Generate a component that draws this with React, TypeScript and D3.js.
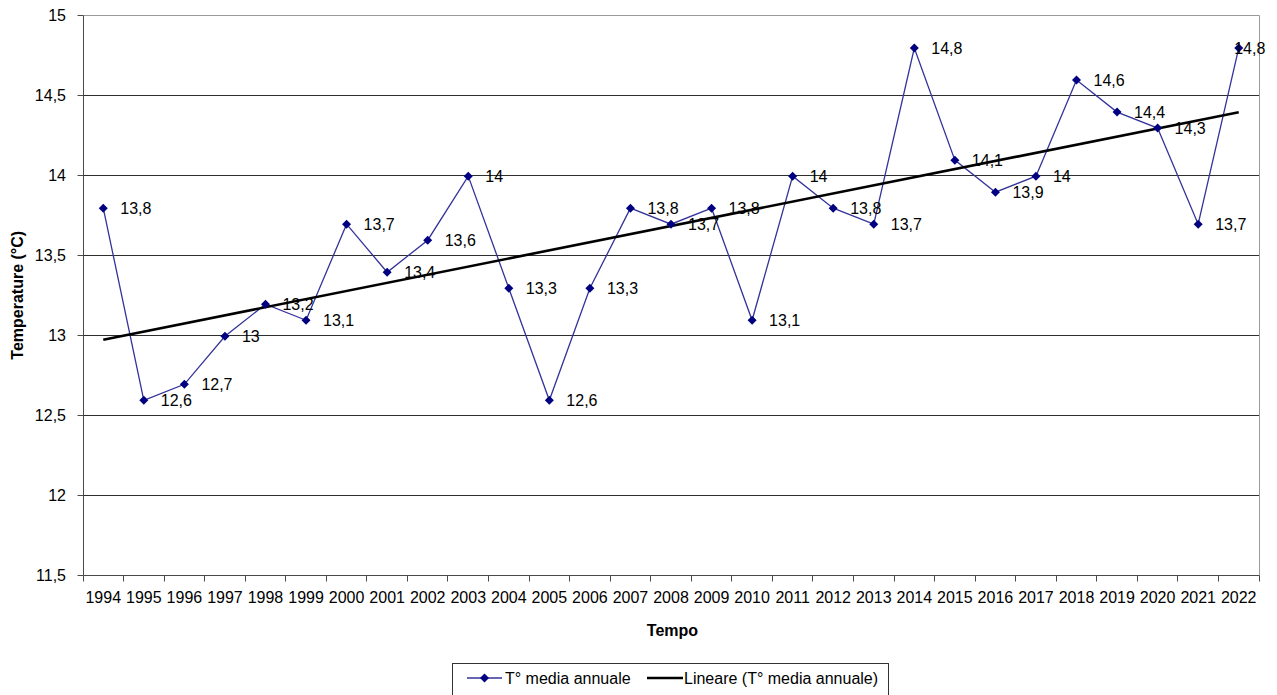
import React from "react";
import * as d3 from "d3";

// Annual mean temperature per year (°C)
const years: string[] = [
  "1994", "1995", "1996", "1997", "1998", "1999", "2000", "2001", "2002", "2003",
  "2004", "2005", "2006", "2007", "2008", "2009", "2010", "2011", "2012", "2013",
  "2014", "2015", "2016", "2017", "2018", "2019", "2020", "2021", "2022",
];
const temps: number[] = [
  13.8, 12.6, 12.7, 13.0, 13.2, 13.1, 13.7, 13.4, 13.6, 14.0,
  13.3, 12.6, 13.3, 13.8, 13.7, 13.8, 13.1, 14.0, 13.8, 13.7,
  14.8, 14.1, 13.9, 14.0, 14.6, 14.4, 14.3, 13.7, 14.8,
];
const yTicks: number[] = [11.5, 12, 12.5, 13, 13.5, 14, 14.5, 15];

const seriesName = "T° media annuale";
const trendName = "Lineare (T° media annuale)";

const W = 1277;
const H = 695;
const plot = { left: 83, right: 1259, top: 15, bottom: 575.5 };
const FONT = "Arial, 'Liberation Sans', sans-serif";
const SERIES_LINE = "#333399";
const SERIES_MARK = "#000080";

const fmt = (v: number) => String(v).replace(".", ",");
// snap a coordinate to the pixel grid so 1px lines stay sharp
const crisp = (v: number) => Math.round(v - 0.5) + 0.5;

function diamond(cx: number, cy: number, r: number) {
  return `M${cx},${cy - r}L${cx + r},${cy}L${cx},${cy + r}L${cx - r},${cy}Z`;
}

export default function App() {
  const x = d3.scaleBand<string>().domain(years).range([plot.left, plot.right]).padding(0);
  const y = d3.scaleLinear().domain([11.5, 15]).range([plot.bottom, plot.top]);
  const cx = (yr: string) => (x(yr) as number) + x.bandwidth() / 2;

  const pts = years.map((yr, i) => ({ yr, i, v: temps[i] }));
  const line = d3
    .line<{ yr: string; v: number }>()
    .x((d) => cx(d.yr))
    .y((d) => y(d.v) + 1);

  // least-squares linear trend over the series index
  const n = temps.length;
  const mx = d3.mean(pts, (d) => d.i) as number;
  const my = d3.mean(temps) as number;
  const sxy = d3.sum(pts, (d) => (d.i - mx) * (d.v - my));
  const sxx = d3.sum(pts, (d) => (d.i - mx) ** 2);
  const slope = sxy / sxx;
  const intercept = my - slope * mx;
  const t0 = intercept;
  const t1 = intercept + slope * (n - 1);

  const labelW = (s: string) => s.length * 8.2;
  const xl = crisp(plot.left);
  const xr = crisp(plot.right);
  const yb = crisp(plot.bottom);
  const yt = crisp(plot.top);

  return (
    <svg width={W} height={H} style={{ position: "absolute", left: 0, top: 0, background: "#fff" }}>
      {/* horizontal gridlines */}
      {yTicks
        .filter((t) => t > 11.5 && t < 15)
        .map((t) => (
          <line key={t} x1={xl} x2={xr} y1={crisp(y(t))} y2={crisp(y(t))} stroke="#2e2e2e" strokeWidth={1} />
        ))}
      {/* plot frame top/right */}
      <line x1={xl} x2={xr} y1={yt} y2={yt} stroke="#9a9a9a" strokeWidth={1} />
      <line x1={xr} x2={xr} y1={yt} y2={yb} stroke="#9a9a9a" strokeWidth={1} />

      {/* y axis */}
      <line x1={xl} x2={xl} y1={yt} y2={yb} stroke="#4a4a4a" strokeWidth={1} />
      {yTicks.map((t) => (
        <g key={t}>
          <line x1={xl - 6} x2={xl} y1={crisp(y(t))} y2={crisp(y(t))} stroke="#4a4a4a" strokeWidth={1} />
          <text x={66} y={y(t)} dy="0.35em" textAnchor="end" fontFamily={FONT} fontSize={16} fill="#000">
            {fmt(t)}
          </text>
        </g>
      ))}

      {/* x axis */}
      <line x1={xl} x2={xr} y1={yb} y2={yb} stroke="#4a4a4a" strokeWidth={1} />
      {years.map((yr) => (
        <line
          key={"t" + yr}
          x1={crisp(x(yr) as number)}
          x2={crisp(x(yr) as number)}
          y1={yb}
          y2={yb + 6}
          stroke="#4a4a4a"
          strokeWidth={1}
        />
      ))}
      <line x1={xr} x2={xr} y1={yb} y2={yb + 6} stroke="#4a4a4a" strokeWidth={1} />
      {years.map((yr) => (
        <text key={"l" + yr} x={cx(yr)} y={603} textAnchor="middle" fontFamily={FONT} fontSize={16} fill="#000">
          {yr}
        </text>
      ))}

      {/* axis titles */}
      <text x={672.5} y={636} textAnchor="middle" fontFamily={FONT} fontSize={16} fontWeight="bold">
        Tempo
      </text>
      <text
        transform={`translate(23,${(plot.top + plot.bottom) / 2}) rotate(-90)`}
        textAnchor="middle"
        fontFamily={FONT}
        fontSize={16}
        fontWeight="bold"
      >
        Temperature (°C)
      </text>

      {/* series */}
      <path d={line(pts) as string} fill="none" stroke={SERIES_LINE} strokeWidth={1.3} />
      {/* trend line */}
      <line
        x1={cx(years[0])}
        x2={cx(years[n - 1])}
        y1={y(t0)}
        y2={y(t1)}
        stroke="#000"
        strokeWidth={2.6}
      />
      {pts.map((d) => (
        <path key={"m" + d.yr} d={diamond(cx(d.yr), y(d.v) + 1, 4.5)} fill={SERIES_MARK} />
      ))}
      {pts.map((d) => {
        const s = fmt(d.v);
        const lx = Math.min(cx(d.yr) + 17, 1267 - labelW(s));
        return (
          <text key={"v" + d.yr} x={lx} y={y(d.v) + 1} dy="0.35em" fontFamily={FONT} fontSize={16} fill="#000">
            {s}
          </text>
        );
      })}

      {/* legend */}
      <rect x={452.5} y={663.5} width={436} height={40} fill="#fff" stroke="#333" strokeWidth={1} />
      <line x1={467} x2={502} y1={678} y2={678} stroke={SERIES_LINE} strokeWidth={1.3} />
      <path d={diamond(484.5, 678, 4.5)} fill={SERIES_MARK} />
      <text x={505} y={678} dy="0.35em" fontFamily={FONT} fontSize={16}>
        {seriesName}
      </text>
      <line x1={647} x2={683} y1={678} y2={678} stroke="#000" strokeWidth={2.6} />
      <text x={684} y={678} dy="0.35em" fontFamily={FONT} fontSize={16}>
        {trendName}
      </text>
    </svg>
  );
}
